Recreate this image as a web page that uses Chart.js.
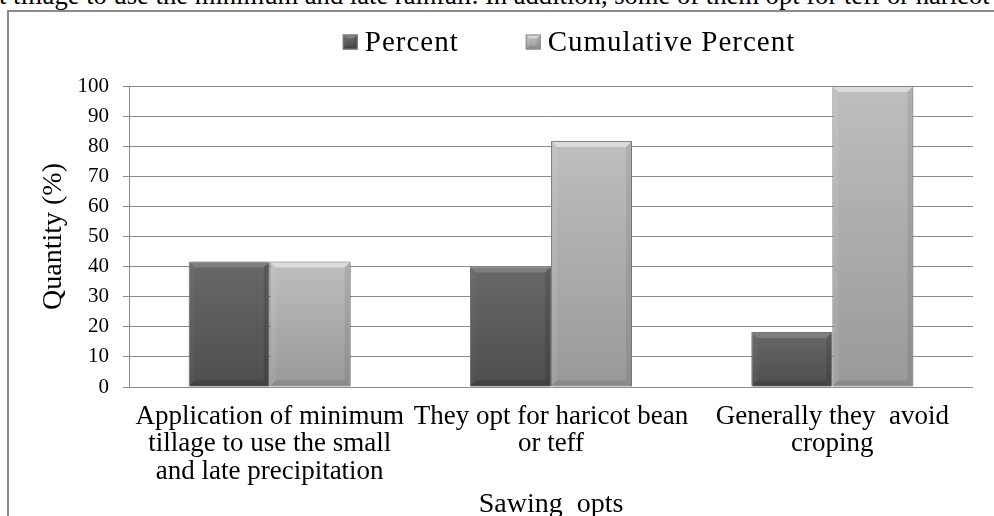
<!DOCTYPE html>
<html>
<head>
<meta charset="utf-8">
<script src="https://cdn.jsdelivr.net/npm/chart.js@4.4.1/dist/chart.umd.min.js"></script>
<style>
  html, body { margin: 0; padding: 0; background: #fff; }
  #wrap { position: relative; width: 994px; height: 516px; overflow: hidden; }
  #lead {
    position: absolute; left: -1px; top: -18px; white-space: nowrap;
    font: 26.6px/27px "Liberation Serif", "Times New Roman", serif; color: #000;
  }
  #frame {
    position: absolute; left: 7px; top: 10px; right: -6px; bottom: -6px;
    border-left: 2px solid #8a8a8a; border-top: 2px solid #8a8a8a;
  }
  canvas { position: absolute; left: 0; top: 0; }
</style>
</head>
<body>
<div id="wrap">
  <div id="lead">t tillage to use the minimum and late rainfall. In addition, some of them opt for teff or haricot</div>
  <div id="frame"></div>
  <canvas id="chart" width="994" height="516"></canvas>
</div>
<script>
// Sowing options reported by farmers (share and running total, %)
const categories = [
  ["Application of minimum", "tillage to use the small", "and late precipitation"],
  ["They opt for haricot bean", "or teff"],
  ["Generally they  avoid", "croping"]
];
const seriesNames = ["Percent", "Cumulative Percent"];
const percent = [41.7, 40.0, 18.3];
const cumulativePercent = [41.7, 81.7, 100];

const SERIF = '"Liberation Serif", "Times New Roman", serif';

// bar shading: vertical gradient plus bevel strips
const shades = [
  { from: '#686868', to: '#4e4e4e', mid: '#5a5a5a', border: '#7c7c7c',
    top: 'rgba(255,255,255,0.16)', left: 'rgba(255,255,255,0.03)',
    right: 'rgba(0,0,0,0.12)', bottom: 'rgba(0,0,0,0.14)' },
  { from: '#bebebe', to: '#999999', mid: '#acacac', border: '#8c8c8c',
    top: 'rgba(255,255,255,0.45)', left: 'rgba(255,255,255,0.08)',
    right: 'rgba(0,0,0,0.08)', bottom: 'rgba(0,0,0,0.10)' }
];

function barFill(i) {
  return (c) => {
    const chart = c.chart, area = chart.chartArea;
    if (!area || c.raw == null || !chart.scales.y) return shades[i].mid;
    const top = chart.scales.y.getPixelForValue(c.raw);
    const g = chart.ctx.createLinearGradient(0, top, 0, area.bottom);
    g.addColorStop(0, shades[i].from);
    g.addColorStop(1, shades[i].to);
    return g;
  };
}

function poly(ctx, pts, color) {
  ctx.beginPath();
  ctx.moveTo(pts[0][0], pts[0][1]);
  for (let k = 1; k < pts.length; k++) ctx.lineTo(pts[k][0], pts[k][1]);
  ctx.closePath();
  ctx.fillStyle = color;
  ctx.fill();
}

function bevel(ctx, l, t, r, b, s, sh) {
  poly(ctx, [[l, t], [r, t], [r - s, t + s], [l + s, t + s]], sh.top);
  poly(ctx, [[l, t], [l + s, t + s], [l + s, b - s], [l, b]], sh.left);
  poly(ctx, [[r, t], [r, b], [r - s, b - s], [r - s, t + s]], sh.right);
  poly(ctx, [[l, b], [l + s, b - s], [r - s, b - s], [r, b]], sh.bottom);
}

const shadowPlugin = {
  id: 'barShadow',
  beforeDatasetsDraw(chart) {
    const ctx = chart.ctx;
    ctx.save();
    ctx.shadowColor = 'rgba(0,0,0,0.28)';
    ctx.shadowBlur = 4;
    ctx.shadowOffsetX = 1;
    ctx.shadowOffsetY = 1;
  },
  afterDatasetsDraw(chart) {
    chart.ctx.restore();
  }
};

const bevelPlugin = {
  id: 'barBevel',
  afterDatasetsDraw(chart) {
    const ctx = chart.ctx;
    ctx.save();
    chart.data.datasets.forEach((ds, di) => {
      const meta = chart.getDatasetMeta(di);
      meta.data.forEach(bar => {
        const { x, y, base, width } = bar.getProps(['x', 'y', 'base', 'width'], true);
        const l = x - width / 2 + 1, r = x + width / 2 - 1;
        const t = Math.min(y, base) + 1, b = Math.max(y, base) - 1;
        const s = Math.min(5, (b - t) / 2);
        bevel(ctx, l, t, r, b, s, shades[di]);
      });
    });
    ctx.restore();
  }
};

const legendPlugin = {
  id: 'topLegend',
  afterDraw(chart, args, opts) {
    const ctx = chart.ctx;
    ctx.save();
    ctx.font = opts.size + 'px ' + SERIF;
    ctx.letterSpacing = opts.spacing + 'px';
    const items = chart.data.datasets.map((ds, i) => ({ label: ds.label, i, w: ctx.measureText(ds.label).width }));
    const box = opts.box, gap = opts.gap, between = opts.between;
    const total = items.reduce((sum, it) => sum + box + gap + it.w, 0) + between * (items.length - 1);
    let x = opts.centerX - total / 2;
    const cy = opts.centerY;
    items.forEach(it => {
      const sh = shades[it.i];
      const top = cy - box / 2;
      const g = ctx.createLinearGradient(0, top, 0, top + box);
      g.addColorStop(0, sh.from);
      g.addColorStop(1, sh.to);
      ctx.fillStyle = g;
      ctx.fillRect(x, top, box, box);
      bevel(ctx, x, top, x + box, top + box, 4, sh);
      ctx.strokeStyle = sh.border;
      ctx.lineWidth = 1;
      ctx.strokeRect(x + 0.5, top + 0.5, box - 1, box - 1);
      ctx.fillStyle = '#000';
      ctx.textAlign = 'left';
      ctx.textBaseline = 'middle';
      ctx.fillText(it.label, x + box + gap, cy + 1);
      x += box + gap + it.w + between;
    });
    ctx.restore();
  }
};

new Chart(document.getElementById('chart'), {
  type: 'bar',
  data: {
    labels: categories,
    datasets: [
      { label: seriesNames[0], data: percent, backgroundColor: barFill(0),
        borderColor: shades[0].border, borderWidth: 1,
        categoryPercentage: 0.576, barPercentage: 1 },
      { label: seriesNames[1], data: cumulativePercent, backgroundColor: barFill(1),
        borderColor: shades[1].border, borderWidth: 1,
        categoryPercentage: 0.576, barPercentage: 1 }
    ]
  },
  options: {
    responsive: false,
    animation: false,
    events: [],
    layout: { padding: { top: 86, right: 21, bottom: 0, left: 0 } },
    plugins: {
      legend: { display: false },
      tooltip: { enabled: false },
      topLegend: { centerX: 569, centerY: 42, size: 29, spacing: 1, box: 15, gap: 7, between: 67 }
    },
    scales: {
      x: {
        grid: { display: false, drawTicks: false },
        border: { display: false },
        ticks: {
          padding: 16, color: '#000', maxRotation: 0, autoSkip: false,
          font: { family: SERIF, size: 27, lineHeight: 1.02 }
        },
        title: {
          display: true, text: 'Sawing  opts', color: '#000',
          font: { family: SERIF, size: 28, lineHeight: 1 },
          padding: { top: 0, bottom: -3 }
        },
        afterFit(scale) { scale.height = 129; }
      },
      y: {
        min: 0, max: 100,
        ticks: { stepSize: 10, padding: 14, color: '#000', font: { family: SERIF, size: 21 } },
        grid: { color: '#8a8a8a', lineWidth: 1, tickLength: 6 },
        border: { color: '#8a8a8a' },
        title: {
          display: true, text: 'Quantity (%)', color: '#000',
          font: { family: SERIF, size: 28, lineHeight: 1 },
          padding: { top: 40, bottom: 0 }
        },
        afterFit(scale) { scale.width = 129; }
      }
    }
  },
  plugins: [shadowPlugin, bevelPlugin, legendPlugin]
});
</script>
</body>
</html>
